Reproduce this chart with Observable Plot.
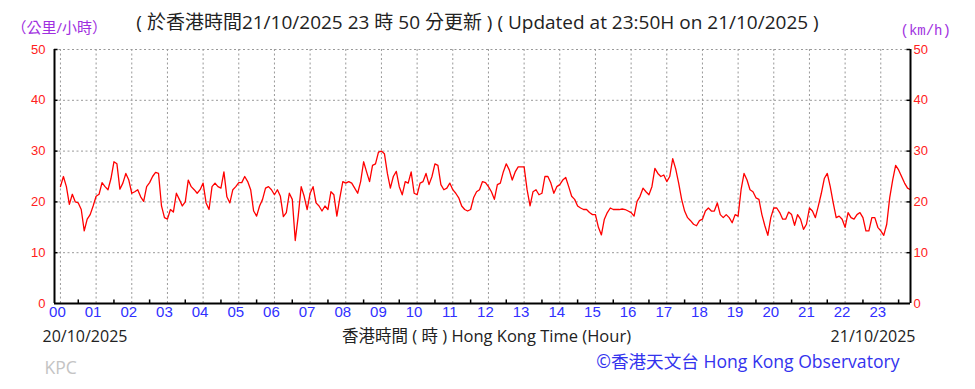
<!DOCTYPE html>
<html>
<head>
<meta charset="utf-8">
<script src="https://cdn.jsdelivr.net/npm/d3@7"></script>
<script src="https://cdn.jsdelivr.net/npm/@observablehq/plot@0.6"></script>
<style>
  html, body { margin: 0; padding: 0; background: #ffffff; }
  #chart { width: 975px; height: 389px; }
</style>
</head>
<body>
<div id="chart"></div>
<script>
// Wind speed (km/h), 5-minute readings, one row per hour, 00:00 to 23:50
const h00 = [23, 25, 23, 19.5, 21.5, 20, 19.8, 18.5, 14.3, 16.6, 17.5, 19.2];
const h01 = [21.1, 21.5, 23.8, 23, 22.4, 24.6, 27.9, 27.5, 22.5, 23.7, 25.6, 24.3];
const h02 = [21.7, 22, 22.4, 21, 20.1, 23, 23.8, 25, 25.8, 25.6, 19.2, 16.9];
const h03 = [16.6, 18.5, 18, 21.7, 20.5, 19.2, 20, 24.3, 23, 22.4, 21.7, 22.4];
const h04 = [23.7, 19.8, 18.5, 23, 23.7, 23, 22.7, 25.9, 21, 19.8, 22.4, 23];
const h05 = [23.8, 23.8, 25, 24, 22.4, 18.2, 17.2, 19.2, 20.5, 22.7, 23, 22.4];
const h06 = [21.4, 22.4, 21.1, 17.1, 17.9, 21.7, 20.5, 12.4, 17.2, 23, 21.1, 18.5];
const h07 = [21.7, 23, 19.8, 19.2, 18.2, 19.2, 18.5, 22, 21.4, 17.2, 20.8, 24];
const h08 = [23.7, 24, 23.7, 22.7, 21.7, 24, 27.9, 25.9, 24, 27.2, 27.5, 29.8];
const h09 = [30, 29.5, 25.6, 22.7, 25, 26, 23, 21.4, 24, 23.7, 25.9, 21.7];
const h10 = [21.4, 23.7, 24, 25.6, 23.4, 25, 27.5, 27.2, 23.4, 22.4, 22.7, 23.7];
const h11 = [22.4, 21.7, 20.8, 19.2, 18.5, 18.2, 18.5, 20.8, 22, 22.4, 24, 23.8];
const h12 = [23, 22, 20.5, 23.4, 23.7, 25.9, 27.5, 26.3, 24.3, 25.9, 26.9, 26.9];
const h13 = [26.9, 22.4, 19.2, 22, 22.4, 21.4, 21.7, 25, 25, 23.7, 21.7, 23];
const h14 = [23.4, 24.3, 24.8, 23, 21.1, 20.5, 19.2, 18.8, 18.5, 18.5, 17.9, 17.5];
const h15 = [17.5, 15, 13.5, 16.6, 17.9, 18.8, 18.5, 18.5, 18.5, 18.6, 18.5, 18.2];
const h16 = [17.9, 17.2, 20.1, 21.1, 22.7, 22, 21.4, 23, 26.6, 25.6, 25, 25.3];
const h17 = [24, 25, 28.5, 26.5, 23.7, 20.5, 18.2, 16.9, 16.3, 15.6, 15.3, 16.3];
const h18 = [16.6, 18.2, 18.8, 18.2, 18.2, 19.8, 17.5, 16.9, 17.5, 16.9, 15.9, 17.5];
const h19 = [17.2, 22.4, 25.6, 24.3, 22.4, 22, 20.8, 20.5, 17.5, 15.3, 13.4, 16.9];
const h20 = [18.8, 18.8, 17.9, 16.6, 16.6, 18, 17.5, 15.4, 17.5, 16.6, 14.6, 15.6];
const h21 = [18.8, 18.2, 16.9, 19.2, 21.7, 24.6, 25.6, 23, 19.8, 16.9, 17.2, 16.6];
const h22 = [15, 17.9, 16.9, 16.6, 17.5, 17.9, 16.9, 14.3, 14.3, 16.9, 16.9, 15];
const h23 = [14.3, 13.4, 15.6, 20.8, 24.3, 27.2, 26.3, 25, 23.7, 22.7, 22.4];

const hourLabels = ["00","01","02","03","04","05","06","07","08","09","10","11",
                    "12","13","14","15","16","17","18","19","20","21","22","23"];
const yTicks = [0, 10, 20, 30, 40, 50];

const titleText = "( 於香港時間21/10/2025 23 時 50 分更新 ) ( Updated at 23:50H on 21/10/2025 )";
const unitLeft = "（公里/小時）";
const unitRight = "(km/h)";
const dateStart = "20/10/2025";
const dateEnd = "21/10/2025";
const xTitle = "香港時間 ( 時 ) Hong Kong Time (Hour)";
const stationCode = "KPC";
const credit = "©香港天文台 Hong Kong Observatory";

// Build table: hour value (fractional) for each 5-minute reading
const rows = [h00,h01,h02,h03,h04,h05,h06,h07,h08,h09,h10,h11,h12,h13,h14,h15,h16,h17,h18,h19,h20,h21,h22,h23];
const data = [];
rows.forEach((vals, h) => vals.forEach((v, k) => data.push({t: h + k * 5 / 60, v})));

const hourTicks = hourLabels.map((_, i) => i);
const halfHours = hourLabels.map((_, i) => i + 0.5).filter(d => d < 23.8);
const xMin = -10 / 60, xMax = 23 + 50 / 60;

const sans = "'Liberation Sans', Arial, sans-serif";
const cjk = "'Open Sans', 'Noto Sans CJK TC', sans-serif";

const chart = Plot.plot({
  width: 975,
  height: 389,
  marginLeft: 54,
  marginRight: 65,
  marginTop: 49,
  marginBottom: 86,
  x: {domain: [xMin, xMax], axis: null},
  y: {domain: [0, 50], axis: null},
  style: {background: "#ffffff", fontFamily: sans, overflow: "visible"},
  marks: [
    Plot.gridY(yTicks.filter(d => d > 0), {stroke: "#999", strokeOpacity: 1, strokeWidth: 1, strokeDasharray: "2,2.5"}),
    Plot.gridX(hourTicks, {stroke: "#999", strokeOpacity: 1, strokeWidth: 1, strokeDasharray: "2,2.5"}),
    Plot.line(data, {x: "t", y: "v", stroke: "#ff0000", strokeWidth: 1.3}),
    // frame: left, right, bottom solid
    Plot.ruleX([xMin, xMax], {y1: 0, y2: 50, stroke: "#000", strokeWidth: 2}),
    Plot.ruleY([0], {x1: xMin, x2: xMax, stroke: "#000", strokeWidth: 2}),
    // minor ticks
    Plot.ruleX(halfHours, {y1: 0, y2: 0.7, stroke: "#000", strokeWidth: 1.5}),
    Plot.ruleY(yTicks.filter(d => d > 0), {x1: xMin, x2: xMin + 0.1, stroke: "#000", strokeWidth: 1.5}),
    Plot.ruleY(yTicks.filter(d => d > 0), {x1: xMax - 0.1, x2: xMax, stroke: "#000", strokeWidth: 1.5}),
    // axes labels
    Plot.axisY(yTicks, {anchor: "left", tickSize: 0, tickPadding: 9, color: "#ff2020", fontSize: 13, label: null}),
    Plot.axisY(yTicks, {anchor: "right", tickSize: 0, tickPadding: 3, color: "#ff2020", fontSize: 13, label: null}),
    Plot.axisX(hourTicks, {anchor: "bottom", tickSize: 0, tickPadding: 3, dx: -3, color: "#3030ff", fontSize: 15,
      tickFormat: i => hourLabels[i], label: null}),
    // annotations
    Plot.text([titleText], {text: d => d, frameAnchor: "top", dx: -5, dy: -27, lineAnchor: "middle",
      fill: "#222", fontSize: 19, fontFamily: cjk}),
    Plot.text([unitLeft], {text: d => d, frameAnchor: "top-left", dx: -43, dy: -21, textAnchor: "start", lineAnchor: "middle",
      fill: "#a030e0", fontSize: 15, fontFamily: cjk}),
    Plot.text([unitRight], {text: d => d, frameAnchor: "top-right", dx: -10, dy: -19, textAnchor: "start", lineAnchor: "middle",
      fill: "#a030e0", fontSize: 14, fontFamily: "'Liberation Mono', monospace"}),
    Plot.text([dateStart], {text: d => d, frameAnchor: "bottom-left", dx: -12, dy: 33, textAnchor: "start", lineAnchor: "middle",
      fill: "#222", fontSize: 16, fontFamily: cjk}),
    Plot.text([xTitle], {text: d => d, frameAnchor: "bottom", dx: 4, dy: 33, lineAnchor: "middle",
      fill: "#222", fontSize: 16.5, fontFamily: cjk}),
    Plot.text([dateEnd], {text: d => d, frameAnchor: "bottom-right", dx: 5, dy: 33, textAnchor: "end", lineAnchor: "middle",
      fill: "#222", fontSize: 16, fontFamily: cjk}),
    Plot.text([stationCode], {text: d => d, frameAnchor: "bottom-left", dx: -10, dy: 65, textAnchor: "start", lineAnchor: "middle",
      fill: "#c4c4c4", fontSize: 17.5, fontFamily: cjk}),
    Plot.text([credit], {text: d => d, frameAnchor: "bottom-right", dx: -11, dy: 59, textAnchor: "end", lineAnchor: "middle",
      fill: "#3333ee", fontSize: 17.6, fontFamily: cjk})
  ]
});
document.getElementById("chart").appendChild(chart);
</script>
</body>
</html>
